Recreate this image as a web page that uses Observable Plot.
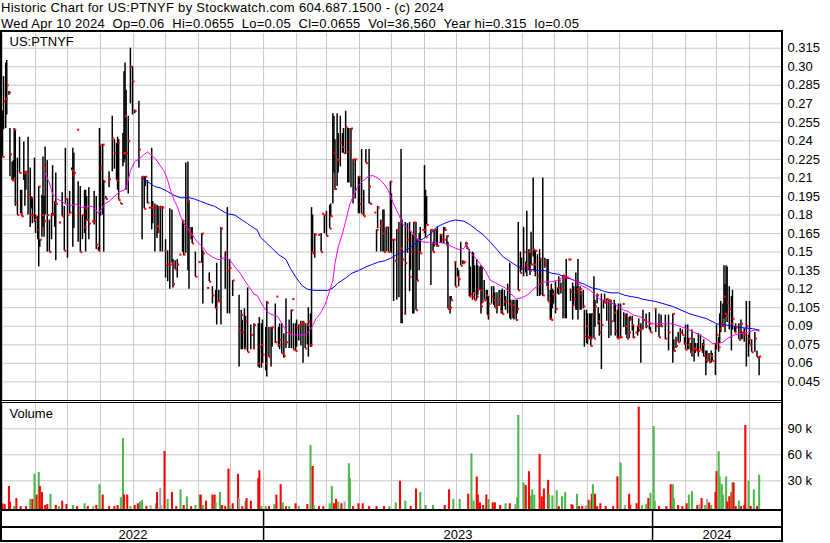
<!DOCTYPE html>
<html><head><meta charset="utf-8">
<script src="https://cdn.jsdelivr.net/npm/d3@7"></script>
<script src="https://cdn.jsdelivr.net/npm/@observablehq/plot@0.6"></script>
<style>
body{margin:0;background:#fff;font-family:"Liberation Sans",Arial,sans-serif;}
#wrap{position:relative;width:830px;height:543px;overflow:hidden;background:#fff;}
.blk{position:absolute;background:#000;}
#wrap svg text.hd{white-space:pre;}
</style></head><body><div id="wrap"></div>
<script>
const titleLine = "Historic Chart for US:PTNYF by Stockwatch.com 604.687.1500 - (c) 2024";
const quoteLine = "Wed Apr 10 2024  Op=0.06  Hi=0.0655  Lo=0.05  Cl=0.0655  Vol=36,560  Year hi=0.315  lo=0.05";
const symbolLabel = "US:PTNYF";
const volumeLabel = "Volume";
const priceTicks = [0.045,0.06,0.075,0.09,0.105,0.12,0.135,0.15,0.165,0.18,0.195,0.21,0.225,0.24,0.255,0.27,0.285,0.30,0.315];
const priceTickLabels = ["0.045","0.06","0.075","0.09","0.105","0.12","0.135","0.15","0.165","0.18","0.195","0.21","0.225","0.24","0.255","0.27","0.285","0.30","0.315"];
const volumeTicks = [30000,60000,90000];
const volumeTickLabels = ["30 k","60 k","90 k"];
const years = ["2022","2023","2024"];

// [date, high, low, close]
const bars2022 = [
["2022-05-01",.264,.227,.227],["2022-05-02",.292,.249,.272],["2022-05-04",.303,.250,.274],["2022-05-05",.305,.261,.285],["2022-05-07",.280,.277,.279],["2022-05-08",.250,.211,.229],["2022-05-10",.223,.208,.208],["2022-05-11",.224,.208,.208],["2022-05-12",.250,.210,.249],["2022-05-13",.249,.187,.190],["2022-05-15",.226,.180,.180],["2022-05-17",.243,.214,.214],["2022-05-18",.200,.181,.181],["2022-05-19",.200,.179,.179],["2022-05-21",.239,.208,.214],["2022-05-22",.215,.187,.215],["2022-05-23",.215,.200,.215],["2022-05-25",.243,.180,.196],["2022-05-27",.218,.170,.180],["2022-05-28",.195,.185,.194],["2022-05-29",.193,.173,.180],["2022-05-31",.226,.174,.176],
["2022-06-01",.180,.165,.178],["2022-06-03",.179,.160,.168],["2022-06-04",.203,.138,.203],["2022-06-05",.160,.154,.160],["2022-06-07",.196,.162,.180],["2022-06-08",.227,.170,.220],["2022-06-09",.195,.162,.175],["2022-06-10",.235,.180,.218],["2022-06-12",.224,.150,.180],["2022-06-14",.176,.150,.150],["2022-06-16",.181,.160,.180],["2022-06-17",.220,.179,.181],["2022-06-19",.191,.170,.190],["2022-06-20",.214,.143,.189],["2022-06-23",.174,.174,.174],["2022-06-26",.198,.179,.179],["2022-06-28",.187,.151,.151],["2022-06-29",.234,.189,.193],
["2022-07-01",.193,.145,.180],["2022-07-03",.199,.181,.182],["2022-07-05",.218,.216,.216],["2022-07-06",.234,.154,.212],["2022-07-07",.230,.169,.214],["2022-07-10",.249,.249,.249],["2022-07-11",.207,.158,.181],["2022-07-13",.203,.150,.150],["2022-07-15",.180,.160,.180],["2022-07-17",.200,.165,.170],["2022-07-18",.200,.150,.185],["2022-07-19",.195,.176,.176],["2022-07-21",.202,.160,.173],["2022-07-24",.175,.175,.175],["2022-07-26",.199,.172,.175],["2022-07-28",.195,.152,.156],["2022-07-30",.154,.151,.151],["2022-07-31",.250,.151,.237],
["2022-08-01",.237,.179,.218],["2022-08-03",.237,.180,.237],["2022-08-04",.208,.150,.207],["2022-08-06",.195,.193,.193],["2022-08-09",.215,.202,.209],["2022-08-12",.260,.215,.242],["2022-08-14",.241,.217,.230],["2022-08-16",.238,.208,.208],["2022-08-17",.243,.200,.238],["2022-08-18",.241,.192,.192],["2022-08-20",.190,.189,.189],["2022-08-22",.246,.219,.230],["2022-08-23",.296,.222,.230],["2022-08-24",.303,.225,.260],["2022-08-25",.281,.200,.230],["2022-08-27",.260,.197,.240],["2022-08-29",.315,.270,.300],["2022-08-31",.300,.261,.288],
["2022-09-02",.265,.262,.264],["2022-09-06",.272,.218,.233],["2022-09-09",.211,.160,.211],["2022-09-11",.211,.185,.185],["2022-09-12",.211,.203,.211],["2022-09-14",.208,.189,.190],["2022-09-16",.186,.185,.186],["2022-09-18",.234,.168,.186],["2022-09-19",.191,.173,.180],["2022-09-21",.189,.150,.186],["2022-09-23",.188,.161,.171],["2022-09-24",.187,.165,.167],["2022-09-26",.187,.150,.186],["2022-09-28",.187,.150,.186],["2022-09-30",.151,.151,.151],
["2022-10-01",.160,.129,.139],["2022-10-03",.151,.126,.140],["2022-10-05",.185,.120,.140],["2022-10-07",.184,.141,.141],["2022-10-08",.144,.121,.124],["2022-10-10",.143,.136,.136],["2022-10-12",.144,.129,.140],["2022-10-14",.148,.148,.148],["2022-10-17",.176,.150,.175],["2022-10-18",.173,.147,.148],["2022-10-20",.222,.149,.170],["2022-10-22",.223,.135,.191],["2022-10-23",.192,.120,.164],["2022-10-25",.170,.160,.164],["2022-10-26",.170,.157,.157],["2022-10-29",.150,.130,.130],
["2022-11-01",.142,.142,.142],["2022-11-04",.165,.141,.165],["2022-11-05",.151,.108,.149],["2022-11-09",.121,.121,.121],["2022-11-11",.133,.126,.126],["2022-11-14",.122,.108,.115],["2022-11-17",.119,.104,.105],["2022-11-18",.141,.091,.110],["2022-11-20",.119,.110,.110],["2022-11-22",.170,.091,.169],["2022-11-26",.150,.120,.150],["2022-11-28",.186,.100,.135],["2022-11-30",.144,.100,.137],
["2022-12-03",.127,.114,.127],["2022-12-09",.115,.057,.087],["2022-12-11",.103,.071,.099],["2022-12-12",.095,.071,.085],["2022-12-14",.104,.071,.072],["2022-12-15",.098,.071,.094],["2022-12-17",.121,.069,.069],["2022-12-20",.091,.071,.083],["2022-12-22",.072,.072,.072],["2022-12-23",.092,.072,.091],["2022-12-27",.092,.057,.060],["2022-12-28",.097,.056,.073],["2022-12-30",.092,.056,.075],["2022-12-31",.095,.060,.067]
];
const bars2023 = [
["2023-01-03",.089,.054,.060],["2023-01-04",.110,.049,.109],["2023-01-06",.089,.065,.065],["2023-01-08",.089,.057,.089],["2023-01-09",.089,.073,.089],["2023-01-12",.108,.076,.077],["2023-01-13",.114,.114,.114],["2023-01-15",.089,.073,.075],["2023-01-16",.092,.071,.079],["2023-01-18",.092,.068,.068],["2023-01-20",.084,.064,.066],["2023-01-22",.112,.072,.077],["2023-01-25",.095,.072,.085],["2023-01-27",.103,.072,.103],["2023-01-28",.112,.112,.112],["2023-01-29",.092,.071,.071],["2023-01-31",.092,.070,.070],
["2023-02-01",.095,.073,.089],["2023-02-03",.091,.078,.091],["2023-02-05",.094,.074,.092],["2023-02-07",.094,.060,.093],["2023-02-09",.092,.072,.072],["2023-02-11",.092,.075,.091],["2023-02-12",.105,.065,.094],["2023-02-14",.100,.073,.075],["2023-02-15",.186,.073,.150],["2023-02-16",.180,.149,.149],["2023-02-18",.165,.145,.164],["2023-02-21",.164,.164,.164],["2023-02-24",.165,.150,.150],["2023-02-25",.181,.181,.181],["2023-02-27",.180,.165,.180],
["2023-03-01",.183,.163,.163],["2023-03-04",.188,.169,.169],["2023-03-05",.189,.179,.179],["2023-03-07",.262,.189,.208],["2023-03-08",.260,.214,.230],["2023-03-09",.241,.200,.201],["2023-03-11",.262,.203,.225],["2023-03-12",.246,.214,.224],["2023-03-14",.260,.219,.238],["2023-03-16",.246,.230,.235],["2023-03-17",.250,.230,.230],["2023-03-19",.264,.229,.251],["2023-03-21",.250,.206,.231],["2023-03-22",.250,.206,.239],["2023-03-24",.250,.202,.250],["2023-03-26",.225,.189,.225],["2023-03-28",.225,.193,.225],["2023-03-31",.211,.181,.211],
["2023-04-01",.211,.181,.189],["2023-04-03",.233,.181,.181],["2023-04-05",.200,.179,.179],["2023-04-07",.233,.222,.222],["2023-04-10",.233,.189,.203],["2023-04-11",.190,.189,.189],["2023-04-15",.182,.182,.182],["2023-04-17",.168,.150,.168],["2023-04-18",.187,.169,.186],["2023-04-20",.171,.171,.171],["2023-04-21",.176,.150,.174],["2023-04-23",.184,.150,.165],["2023-04-24",.184,.150,.150],["2023-04-26",.170,.150,.170],["2023-04-28",.170,.150,.150],["2023-04-30",.207,.150,.207],
["2023-05-01",.197,.149,.160],["2023-05-03",.160,.110,.160],["2023-05-04",.143,.143,.143],["2023-05-06",.168,.111,.168],["2023-05-08",.174,.113,.150],["2023-05-10",.233,.092,.153],["2023-05-11",.176,.092,.144],["2023-05-13",.100,.100,.100],["2023-05-14",.174,.100,.141],["2023-05-16",.173,.149,.160],["2023-05-18",.174,.118,.130],["2023-05-19",.166,.135,.150],["2023-05-21",.164,.100,.164],["2023-05-22",.174,.100,.174],["2023-05-24",.174,.103,.103],["2023-05-25",.160,.127,.127],["2023-05-27",.165,.135,.150],["2023-05-28",.170,.149,.149],["2023-05-30",.168,.168,.168],
["2023-06-01",.220,.165,.168],["2023-06-02",.200,.162,.162],["2023-06-03",.195,.172,.172],["2023-06-07",.168,.123,.168],["2023-06-09",.158,.150,.150],["2023-06-10",.168,.154,.168],["2023-06-12",.168,.155,.155],["2023-06-13",.170,.155,.155],["2023-06-16",.164,.157,.164],["2023-06-17",.164,.157,.160],["2023-06-19",.170,.157,.160],["2023-06-20",.170,.167,.168],["2023-06-22",.163,.155,.163],["2023-06-23",.158,.104,.104],["2023-06-25",.114,.100,.105],["2023-06-26",.114,.111,.111],["2023-06-29",.142,.142,.142],["2023-06-30",.142,.122,.122],
["2023-07-02",.137,.130,.130],["2023-07-03",.135,.122,.128],["2023-07-05",.158,.139,.139],["2023-07-07",.143,.140,.141],["2023-07-08",.142,.141,.142],["2023-07-10",.158,.154,.157],["2023-07-11",.155,.152,.153],["2023-07-13",.152,.114,.114],["2023-07-14",.138,.114,.116],["2023-07-16",.150,.111,.114],["2023-07-17",.149,.117,.117],["2023-07-18",.139,.111,.111],["2023-07-20",.144,.111,.114],["2023-07-21",.139,.115,.120],["2023-07-23",.138,.119,.119],["2023-07-24",.139,.100,.106],["2023-07-25",.138,.108,.110],["2023-07-27",.127,.111,.111],["2023-07-29",.119,.111,.115],["2023-07-30",.119,.099,.099],["2023-07-31",.114,.095,.108],
["2023-08-03",.122,.108,.114],["2023-08-05",.122,.107,.111],["2023-08-06",.117,.105,.105],["2023-08-08",.117,.100,.107],["2023-08-10",.119,.106,.112],["2023-08-12",.119,.100,.102],["2023-08-13",.120,.100,.100],["2023-08-15",.119,.106,.110],["2023-08-16",.114,.103,.110],["2023-08-18",.124,.100,.121],["2023-08-20",.141,.096,.108],["2023-08-21",.111,.095,.101],["2023-08-23",.111,.096,.107],["2023-08-24",.111,.095,.101],["2023-08-26",.111,.095,.095],["2023-08-27",.111,.100,.104],["2023-08-28",.174,.119,.119],["2023-08-30",.150,.133,.133],["2023-08-31",.145,.135,.137],
["2023-09-02",.170,.130,.150],["2023-09-04",.142,.133,.140],["2023-09-05",.183,.130,.137],["2023-09-07",.152,.135,.150],["2023-09-08",.149,.131,.135],["2023-09-09",.166,.140,.140],["2023-09-11",.210,.146,.152],["2023-09-12",.152,.134,.140],["2023-09-13",.151,.130,.151],["2023-09-15",.148,.114,.131],["2023-09-17",.152,.114,.144],["2023-09-18",.145,.115,.125],["2023-09-20",.210,.114,.115],["2023-09-22",.145,.137,.141],["2023-09-24",.144,.122,.122],["2023-09-25",.144,.110,.110],["2023-09-27",.119,.095,.096],["2023-09-28",.124,.095,.095],["2023-09-29",.120,.104,.116],["2023-09-30",.119,.108,.115],
["2023-10-02",.126,.100,.104],["2023-10-04",.121,.116,.121],["2023-10-05",.130,.115,.127],["2023-10-07",.125,.116,.120],["2023-10-09",.131,.096,.131],["2023-10-11",.130,.096,.130],["2023-10-12",.144,.096,.129],["2023-10-14",.144,.144,.144],["2023-10-15",.144,.144,.144],["2023-10-16",.120,.110,.118],["2023-10-18",.125,.095,.107],["2023-10-19",.122,.107,.112],["2023-10-21",.133,.103,.125],["2023-10-22",.122,.103,.120],["2023-10-23",.144,.095,.117],["2023-10-25",.122,.103,.120],["2023-10-26",.118,.103,.116],["2023-10-28",.119,.104,.106],["2023-10-29",.103,.073,.082],["2023-10-31",.103,.076,.090],
["2023-11-01",.100,.075,.081],["2023-11-03",.100,.079,.080],["2023-11-04",.100,.074,.074],["2023-11-05",.100,.079,.100],["2023-11-07",.130,.080,.080],["2023-11-08",.111,.089,.106],["2023-11-10",.116,.108,.115],["2023-11-11",.105,.091,.094],["2023-11-12",.100,.082,.085],["2023-11-14",.116,.055,.091],["2023-11-16",.111,.104,.111],["2023-11-17",.116,.109,.109],["2023-11-19",.112,.094,.112],["2023-11-21",.111,.080,.111],["2023-11-23",.111,.082,.094],["2023-11-26",.111,.093,.101],["2023-11-27",.108,.082,.086],["2023-11-29",.103,.080,.080],["2023-11-30",.108,.080,.081],
["2023-12-02",.108,.080,.081],["2023-12-04",.108,.108,.108],["2023-12-05",.101,.089,.098],["2023-12-07",.100,.083,.090],["2023-12-08",.100,.080,.080],["2023-12-10",.097,.080,.085],["2023-12-11",.098,.094,.096],["2023-12-13",.098,.086,.091],["2023-12-14",.090,.080,.081],["2023-12-16",.085,.085,.085],["2023-12-18",.090,.082,.090],["2023-12-19",.096,.085,.087],["2023-12-21",.092,.060,.088],["2023-12-23",.103,.087,.095],["2023-12-26",.100,.088,.090],["2023-12-29",.101,.087,.092],["2023-12-30",.089,.085,.085]
];
const bars2024 = [
["2024-01-03",.104,.104,.104],["2024-01-04",.103,.085,.090],["2024-01-07",.100,.081,.081],["2024-01-09",.099,.089,.090],["2024-01-13",.099,.079,.080],["2024-01-16",.099,.070,.085],["2024-01-20",.100,.060,.100],["2024-01-21",.079,.070,.070],["2024-01-23",.081,.072,.074],["2024-01-25",.085,.077,.077],["2024-01-27",.088,.077,.085],["2024-01-29",.087,.083,.083],["2024-01-31",.081,.075,.076],
["2024-02-01",.091,.071,.071],["2024-02-03",.091,.071,.075],["2024-02-04",.080,.071,.080],["2024-02-06",.076,.068,.069],["2024-02-07",.087,.065,.072],["2024-02-09",.080,.061,.072],["2024-02-10",.076,.068,.071],["2024-02-12",.076,.069,.070],["2024-02-13",.084,.065,.070],["2024-02-15",.083,.071,.071],["2024-02-17",.076,.068,.075],["2024-02-18",.079,.065,.066],["2024-02-20",.070,.050,.063],["2024-02-21",.070,.060,.066],["2024-02-23",.068,.061,.061],["2024-02-25",.070,.060,.066],["2024-02-26",.068,.062,.062],["2024-02-29",.076,.050,.076],
["2024-03-01",.091,.071,.083],["2024-03-03",.081,.069,.073],["2024-03-04",.100,.076,.088],["2024-03-05",.110,.085,.092],["2024-03-07",.108,.089,.090],["2024-03-08",.139,.096,.114],["2024-03-09",.124,.085,.100],["2024-03-10",.139,.097,.098],["2024-03-11",.138,.093,.109],["2024-03-13",.122,.087,.104],["2024-03-15",.114,.070,.092],["2024-03-16",.119,.087,.096],["2024-03-18",.089,.085,.085],["2024-03-19",.092,.085,.089],["2024-03-22",.092,.079,.079],["2024-03-24",.095,.079,.092],["2024-03-25",.085,.079,.085],["2024-03-27",.088,.077,.083],["2024-03-29",.110,.057,.090],["2024-03-31",.083,.065,.080],
["2024-04-01",.110,.075,.075],["2024-04-03",.079,.069,.069],["2024-04-06",.085,.069,.080],["2024-04-08",.070,.065,.065],["2024-04-10",.0655,.05,.0655]
];

// short moving average (magenta) [date, value]
const maShort = [
["2022-06-10",.214],["2022-06-14",.206],["2022-06-17",.197],["2022-06-21",.193],["2022-06-26",.191],["2022-06-30",.188],["2022-07-05",.188],["2022-07-09",.189],["2022-07-12",.187],["2022-07-15",.186],["2022-07-20",.187],["2022-07-24",.187],["2022-07-28",.184],["2022-07-30",.181],["2022-08-02",.185],["2022-08-05",.189],["2022-08-09",.191],["2022-08-14",.195],["2022-08-19",.199],["2022-08-23",.200],["2022-08-26",.204],["2022-08-29",.216],["2022-09-02",.223],["2022-09-07",.226],["2022-09-11",.229],["2022-09-14",.231],["2022-09-17",.229],["2022-09-22",.225],["2022-09-26",.220],["2022-09-30",.215],["2022-10-03",.208],["2022-10-06",.199],["2022-10-09",.192],["2022-10-12",.187],["2022-10-15",.179],["2022-10-19",.172],["2022-10-22",.169],["2022-10-26",.164],["2022-10-31",.158],["2022-11-05",.154],["2022-11-09",.149],["2022-11-14",.146],["2022-11-19",.144],["2022-11-22",.144],["2022-11-26",.146],["2022-11-30",.144],["2022-12-05",.138],["2022-12-10",.133],["2022-12-15",.126],["2022-12-19",.121],["2022-12-23",.116],["2022-12-26",.115],["2022-12-29",.110],
["2023-01-03",.103],["2023-01-07",.100],["2023-01-14",.098],["2023-01-19",.091],["2023-01-23",.085],["2023-01-28",.083],["2023-02-03",.083],["2023-02-09",.083],["2023-02-12",.085],["2023-02-16",.090],["2023-02-19",.096],["2023-02-23",.100],["2023-02-28",.108],["2023-03-03",.116],["2023-03-07",.127],["2023-03-09",.141],["2023-03-12",.154],["2023-03-16",.165],["2023-03-19",.175],["2023-03-23",.189],["2023-03-26",.195],["2023-03-31",.204],["2023-04-05",.208],["2023-04-09",.211],["2023-04-13",.212],["2023-04-16",.211],["2023-04-21",.208],["2023-04-25",.204],["2023-04-28",.200],["2023-05-03",.189],["2023-05-08",.180],["2023-05-12",.172],["2023-05-17",.169],["2023-05-22",.165],["2023-05-26",.160],["2023-05-31",.158],["2023-06-05",.158],["2023-06-09",.157],["2023-06-14",.158],["2023-06-19",.157],["2023-06-23",.156],["2023-06-28",.154],["2023-07-03",.152],["2023-07-08",.153],["2023-07-10",.156],["2023-07-14",.150],["2023-07-19",.145],["2023-07-23",.141],["2023-07-28",.135],["2023-08-02",.127],["2023-08-07",.125],["2023-08-11",.123],["2023-08-16",.121],["2023-08-21",.116],["2023-08-23",.115],["2023-08-26",.112],["2023-08-31",.113],["2023-09-05",.115],["2023-09-09",.118],["2023-09-14",.122],["2023-09-19",.125],["2023-09-23",.126],["2023-09-28",.126],["2023-10-03",.127],["2023-10-08",.129],["2023-10-10",.130],["2023-10-14",.130],["2023-10-17",.128],["2023-10-22",.126],["2023-10-26",.123],["2023-10-31",.121],["2023-11-05",.118],["2023-11-09",.114],["2023-11-14",.111],["2023-11-21",.110],["2023-11-25",.108],["2023-11-30",.106],["2023-12-05",.103],["2023-12-09",.102],["2023-12-14",.099],["2023-12-19",.098],["2023-12-22",.097],["2023-12-26",.094],
["2024-01-01",.092],["2024-01-07",.092],["2024-01-14",.092],["2024-01-20",.092],["2024-02-02",.088],["2024-02-14",.083],["2024-02-22",.079],["2024-02-26",.076],["2024-03-02",.076],["2024-03-07",.077],["2024-03-11",.080],["2024-03-18",.083],["2024-03-24",.084],["2024-03-30",.085],["2024-04-06",.087],["2024-04-10",.086]
];
// long moving average (blue) [date, value]
const maLong = [
["2022-09-09",.210],["2022-09-14",.207],["2022-09-21",.203],["2022-09-26",.202],["2022-10-03",.199],["2022-10-09",.196],["2022-10-15",.194],["2022-10-23",.194],["2022-10-28",.193],["2022-11-03",.191],["2022-11-09",.189],["2022-11-16",.187],["2022-11-22",.184],["2022-11-28",.181],["2022-12-05",.180],["2022-12-10",.177],["2022-12-17",.173],["2022-12-22",.170],["2022-12-26",.168],["2022-12-29",.162],
["2023-01-03",.158],["2023-01-09",.153],["2023-01-15",.148],["2023-01-22",.144],["2023-01-26",.137],["2023-01-31",.130],["2023-02-06",.123],["2023-02-11",.120],["2023-02-17",.119],["2023-02-23",.119],["2023-03-02",.119],["2023-03-07",.121],["2023-03-12",.125],["2023-03-19",.129],["2023-03-25",.133],["2023-03-31",.135],["2023-04-07",.138],["2023-04-13",.140],["2023-04-19",.142],["2023-04-25",.143],["2023-04-30",.145],["2023-05-06",.148],["2023-05-12",.150],["2023-05-19",.154],["2023-05-25",.158],["2023-05-31",.161],["2023-06-07",.165],["2023-06-12",.170],["2023-06-19",.173],["2023-06-25",.175],["2023-06-30",.176],["2023-07-08",.175],["2023-07-14",.172],["2023-07-20",.168],["2023-07-26",.164],["2023-08-02",.158],["2023-08-08",.152],["2023-08-14",.146],["2023-08-21",.142],["2023-08-28",.138],["2023-09-03",.137],["2023-09-09",.136],["2023-09-16",.135],["2023-09-22",.135],["2023-09-28",.133],["2023-10-05",.132],["2023-10-10",.130],["2023-10-17",.128],["2023-10-23",.126],["2023-10-29",.124],["2023-11-05",.121],["2023-11-11",.120],["2023-11-17",.118],["2023-11-23",.117],["2023-11-30",.117],["2023-12-06",.115],["2023-12-12",.114],["2023-12-19",.113],["2023-12-22",.112],
["2024-01-04",.110],["2024-01-20",.106],["2024-02-05",.100],["2024-02-21",.096],["2024-03-01",.092],["2024-03-10",.091],["2024-03-23",.089],["2024-04-04",.088],["2024-04-10",.087]
];

// volume [date, thousands, direction: u=up d=down n=unchanged]
const volume2022 = [
["2022-05-01",3.5,"d"],["2022-05-03",2.5,"d"],["2022-05-07",23.5,"d"],["2022-05-08",5.5,"d"],["2022-05-12",0.5,"u"],["2022-05-14",9.5,"d"],["2022-05-18",0.2,"d"],["2022-05-23",0.2,"d"],["2022-05-27",8.5,"u"],["2022-05-29",8.5,"d"],["2022-05-31",37.5,"u"],
["2022-06-02",13.5,"d"],["2022-06-04",39.5,"u"],["2022-06-05",23.5,"d"],["2022-06-07",16.5,"d"],["2022-06-10",1.5,"d"],["2022-06-12",2.5,"d"],["2022-06-15",14.5,"u"],["2022-06-20",1.5,"d"],["2022-06-23",0.2,"u"],["2022-06-26",6.5,"d"],["2022-06-30",2.5,"d"],
["2022-07-06",1.5,"u"],["2022-07-10",0.2,"d"],["2022-07-17",3.5,"u"],["2022-07-20",0.2,"d"],["2022-07-25",0.5,"n"],["2022-07-28",1.5,"d"],["2022-07-31",25.5,"u"],
["2022-08-03",13.5,"d"],["2022-08-09",0.2,"d"],["2022-08-14",0.2,"d"],["2022-08-17",1.5,"d"],["2022-08-20",10.5,"u"],["2022-08-22",78.8,"u"],["2022-08-23",13.5,"d"],["2022-08-26",13.5,"d"],["2022-08-29",0.5,"u"],
["2022-09-02",1.5,"d"],["2022-09-05",3.5,"d"],["2022-09-07",5.5,"u"],["2022-09-09",7.5,"u"],["2022-09-13",0.5,"d"],["2022-09-17",1.5,"n"],["2022-09-22",3.5,"u"],["2022-09-23",16.5,"d"],["2022-09-26",21.5,"n"],["2022-09-27",1.5,"n"],["2022-09-30",63.8,"d"],
["2022-10-03",8.5,"u"],["2022-10-07",16.5,"d"],["2022-10-11",0.2,"d"],["2022-10-15",19.5,"u"],["2022-10-18",1.5,"d"],["2022-10-21",11.5,"u"],["2022-10-25",0.2,"d"],["2022-10-29",1.5,"u"],
["2022-11-02",13.5,"u"],["2022-11-03",13.5,"d"],["2022-11-05",1.5,"u"],["2022-11-08",6.5,"d"],["2022-11-14",13.5,"d"],["2022-11-16",13.5,"d"],["2022-11-17",4.5,"u"],["2022-11-21",16.5,"u"],["2022-11-23",1.5,"d"],["2022-11-26",0.5,"d"],["2022-11-29",43.5,"d"],["2022-11-30",1.5,"u"],
["2022-12-03",3.5,"d"],["2022-12-08",37.5,"d"],["2022-12-09",9.5,"n"],["2022-12-12",0.2,"d"],["2022-12-15",6.5,"u"],["2022-12-16",9.5,"d"],["2022-12-20",6.5,"d"],["2022-12-27",32.5,"d"],["2022-12-28",41.5,"d"],["2022-12-30",0.5,"u"]
];
const volume2023 = [
["2023-01-03",0.2,"u"],["2023-01-06",0.2,"d"],["2023-01-11",2.5,"u"],["2023-01-13",13.5,"d"],["2023-01-17",25.5,"d"],["2023-01-19",4.5,"u"],["2023-01-22",0.2,"d"],["2023-01-25",0.2,"u"],["2023-01-31",3.5,"d"],
["2023-02-03",0.2,"u"],["2023-02-11",2.5,"d"],["2023-02-14",70.8,"u"],["2023-02-16",46.5,"d"],["2023-02-17",1.5,"u"],["2023-02-22",0.2,"d"],["2023-02-26",0.2,"d"],
["2023-03-04",3.5,"u"],["2023-03-06",23.5,"u"],["2023-03-08",3.5,"d"],["2023-03-10",8.5,"d"],["2023-03-12",5.5,"u"],["2023-03-15",3.5,"d"],["2023-03-18",5.5,"n"],["2023-03-22",49.6,"u"],["2023-03-23",32.5,"u"],["2023-03-26",0.2,"d"],["2023-03-31",3.5,"d"],
["2023-04-04",3.5,"d"],["2023-04-10",0.2,"d"],["2023-04-17",0.2,"d"],["2023-04-24",0.2,"d"],["2023-04-29",0.2,"u"],
["2023-05-05",4.5,"u"],["2023-05-09",29.5,"d"],["2023-05-14",6.5,"u"],["2023-05-19",0.5,"d"],["2023-05-24",20.5,"d"],["2023-05-28",16.5,"u"],
["2023-06-02",1.5,"u"],["2023-06-09",1.5,"u"],["2023-06-20",1.5,"d"],["2023-06-24",19.5,"d"],["2023-06-28",8.5,"u"],
["2023-07-04",8.5,"u"],["2023-07-12",14.5,"d"],["2023-07-15",61.2,"u"],["2023-07-17",6.5,"u"],["2023-07-20",34.5,"d"],["2023-07-21",13.5,"d"],["2023-07-23",4.5,"d"],["2023-07-26",1.5,"d"],["2023-07-29",13.5,"d"],["2023-07-31",8.5,"u"],
["2023-08-04",4.5,"d"],["2023-08-06",4.5,"d"],["2023-08-11",1.5,"d"],["2023-08-16",3.5,"u"],["2023-08-20",3.5,"d"],["2023-08-25",2.5,"n"],["2023-08-27",10.5,"u"],["2023-08-28",105.4,"u"],
["2023-09-02",27.5,"u"],["2023-09-04",24.5,"d"],["2023-09-07",40.5,"d"],["2023-09-09",12.5,"u"],["2023-09-10",19.5,"u"],["2023-09-12",13.5,"u"],["2023-09-17",60.5,"d"],["2023-09-19",11.5,"d"],["2023-09-21",20.5,"d"],["2023-09-25",30.5,"d"],["2023-09-26",13.5,"u"],["2023-09-29",12.5,"u"],
["2023-10-03",18.5,"u"],["2023-10-05",0.2,"d"],["2023-10-08",11.5,"u"],["2023-10-11",16.5,"u"],["2023-10-17",2.5,"d"],["2023-10-18",1.5,"d"],["2023-10-22",14.5,"u"],["2023-10-24",0.2,"d"],["2023-10-27",0.5,"d"],["2023-10-30",0.2,"n"],["2023-10-31",1.5,"n"],
["2023-11-02",7.5,"d"],["2023-11-03",6.5,"u"],["2023-11-05",14.5,"d"],["2023-11-06",25.5,"u"],["2023-11-08",14.5,"d"],["2023-11-10",0.2,"d"],["2023-11-13",3.5,"d"],["2023-11-18",0.5,"d"],["2023-11-25",0.2,"d"],["2023-11-29",34.5,"d"],
["2023-12-02",50.5,"u"],["2023-12-06",1.5,"n"],["2023-12-10",14.5,"d"],["2023-12-11",1.5,"d"],["2023-12-17",3.5,"d"],["2023-12-19",115,"d"],["2023-12-22",1.5,"u"],["2023-12-26",2.5,"u"],["2023-12-28",9.5,"d"],["2023-12-30",15.5,"u"]
];
const volume2024 = [
["2024-01-02",92.7,"u"],["2024-01-03",6.5,"u"],["2024-01-07",0.2,"d"],["2024-01-14",0.2,"d"],["2024-01-18",25.5,"d"],["2024-01-20",25.5,"u"],["2024-01-21",9.5,"u"],["2024-01-25",1.5,"d"],["2024-01-29",0.2,"d"],
["2024-02-02",3.5,"d"],["2024-02-04",13.5,"u"],["2024-02-07",17.5,"u"],["2024-02-12",1.5,"d"],["2024-02-14",2.5,"n"],["2024-02-16",9.5,"d"],["2024-02-19",1.5,"u"],["2024-02-21",8.5,"n"],["2024-02-23",4.5,"d"],["2024-02-25",1.5,"u"],["2024-02-29",16.5,"d"],
["2024-03-01",40.5,"d"],["2024-03-03",63.5,"u"],["2024-03-04",34.5,"u"],["2024-03-06",25.5,"u"],["2024-03-07",13.5,"u"],["2024-03-10",34.5,"u"],["2024-03-11",5.5,"d"],["2024-03-13",11.5,"d"],["2024-03-15",16.5,"d"],["2024-03-16",27.5,"u"],["2024-03-17",27.5,"d"],["2024-03-19",0.2,"d"],["2024-03-22",6.5,"u"],["2024-03-24",0.2,"d"],["2024-03-27",1.5,"d"],["2024-03-28",93.8,"d"],["2024-03-31",29.5,"u"],
["2024-04-02",0.5,"d"],["2024-04-05",19.5,"u"],["2024-04-08",0.2,"d"],["2024-04-10",36.56,"u"]
];

// ---------- build ----------
const font = '"Liberation Sans", Arial, sans-serif';
const gridColor = "#c8c8c8";
const dirColor = {u: "#4cb84c", d: "#ff0000", n: "#a8a8a8"};
const xDomain = [new Date("2022-05-01"), new Date("2024-05-01")];
const monthTicks = d3.utcMonth.range(xDomain[0], xDomain[1]);
const bars = [...bars2022, ...bars2023, ...bars2024].map(d => ({date: new Date(d[0]), high: d[1], low: d[2], close: d[3]}));
const maS = maShort.map(d => ({date: new Date(d[0]), v: d[1]}));
const maL = maLong.map(d => ({date: new Date(d[0]), v: d[1]}));
const vols = [...volume2022, ...volume2023, ...volume2024].map(d => ({date: new Date(d[0]), v: d[1] * 1000, dir: d[2]}));
const baseStyle = {fontFamily: font, fontSize: "13px", background: "transparent", overflow: "visible", color: "#000"};
const wrap = document.getElementById("wrap");
function place(el, top) { el.style.position = "absolute"; el.style.left = "0px"; el.style.top = top + "px"; wrap.appendChild(el); }

// header
const head = d3.create("svg").attr("width", 830).attr("height", 30).style("font-family", font);
head.append("text").attr("class", "hd").attr("xml:space", "preserve").attr("x", 1).attr("y", 12).attr("font-size", 13).attr("textLength", 443).attr("fill", "#000").text(titleLine);
head.append("text").attr("class", "hd").attr("xml:space", "preserve").attr("x", 1).attr("y", 27.7).attr("font-size", 13).attr("textLength", 578).attr("fill", "#000").text(quoteLine);
place(head.node(), 0);

// price panel
const price = Plot.plot({
  width: 830, height: 367, marginTop: 0, marginBottom: 0, marginLeft: 2, marginRight: 49,
  style: baseStyle,
  x: {type: "utc", domain: xDomain, axis: null},
  y: {domain: [0.0299, 0.3269], axis: null},
  marks: [
    Plot.gridX(monthTicks, {stroke: gridColor, strokeOpacity: 1, strokeWidth: 1}),
    Plot.gridY(priceTicks, {stroke: gridColor, strokeOpacity: 1, strokeWidth: 1}),
    Plot.ruleX(bars, {x: "date", y1: "low", y2: "high", stroke: "#000", strokeWidth: 1.5}),
    Plot.line(maL, {x: "date", y: "v", stroke: "#0000ff", strokeWidth: 1}),
    Plot.line(maS, {x: "date", y: "v", stroke: "#ff00ff", strokeWidth: 1}),
    Plot.dot(bars, {x: "date", y: "close", symbol: "square", r: 1.15, fill: "#ff0000", stroke: "none", dx: 1}),
    Plot.text(priceTicks, {y: d => d, text: (d, i) => priceTickLabels[i], frameAnchor: "right", textAnchor: "start", dx: 6, fontSize: 13, fill: "#000"}),
    Plot.text([symbolLabel], {frameAnchor: "top-left", text: d => d, textAnchor: "start", lineAnchor: "middle", dx: 7, dy: 8.7, fontSize: 13, fill: "#000"})
  ]
});
place(price, 33);

// volume panel
const volPlot = Plot.plot({
  width: 830, height: 107, marginTop: 0, marginBottom: 0, marginLeft: 2, marginRight: 49,
  style: baseStyle,
  x: {type: "utc", domain: xDomain, axis: null},
  y: {domain: [-4270, 119190], axis: null},
  marks: [
    Plot.gridX(monthTicks, {stroke: gridColor, strokeOpacity: 1, strokeWidth: 1}),
    Plot.gridY(volumeTicks, {stroke: gridColor, strokeOpacity: 1, strokeWidth: 1}),
    Plot.rect(vols, {x1: "date", x2: d => d3.utcDay.offset(d.date, 1), y1: 0, y2: "v", fill: d => dirColor[d.dir], insetLeft: -0.5, insetRight: -0.5, insetBottom: -3}),
    Plot.text(volumeTicks, {y: d => d, text: (d, i) => volumeTickLabels[i], frameAnchor: "right", textAnchor: "start", dx: 6, fontSize: 13, fill: "#000"}),
    Plot.text([volumeLabel], {frameAnchor: "top-left", text: d => d, textAnchor: "start", lineAnchor: "middle", dx: 7, dy: 10, fontSize: 13, fill: "#000"})
  ]
});
place(volPlot, 403);

// year rows
const yearStarts = years.map(y => new Date(`${y}-01-01`));
const yearSpans = years.map((y, i) => {
  const a = yearStarts[i] > xDomain[0] ? yearStarts[i] : xDomain[0];
  const b = i + 1 < years.length ? yearStarts[i + 1] : xDomain[1];
  return {label: y, start: yearStarts[i], mid: new Date((+a + +b) / 2)};
});
const axisPlot = Plot.plot({
  width: 830, height: 29, marginTop: 0, marginBottom: 0, marginLeft: 2, marginRight: 49,
  style: baseStyle,
  x: {type: "utc", domain: xDomain, axis: null},
  marks: [
    Plot.ruleX(yearSpans.filter(d => d.start > xDomain[0]), {x: "start", stroke: "#000", strokeWidth: 1.5}),
    Plot.text(yearSpans, {x: "mid", text: "label", frameAnchor: "top", lineAnchor: "middle", dy: 23, fontSize: 13, fill: "#000"})
  ]
});
place(axisPlot, 511);

// frame lines
function line(l, t, w, h) { const d = document.createElement("div"); d.className = "blk"; Object.assign(d.style, {left: l + "px", top: t + "px", width: w + "px", height: h + "px"}); wrap.appendChild(d); }
line(0, 30, 783, 2);
line(0, 30, 2, 512);
line(781, 30, 2, 512);
line(0, 400, 783, 1);
line(0, 402, 783, 1);
line(0, 509, 783, 2);
line(0, 526, 783, 2);
line(0, 540, 783, 2);
</script></body></html>
